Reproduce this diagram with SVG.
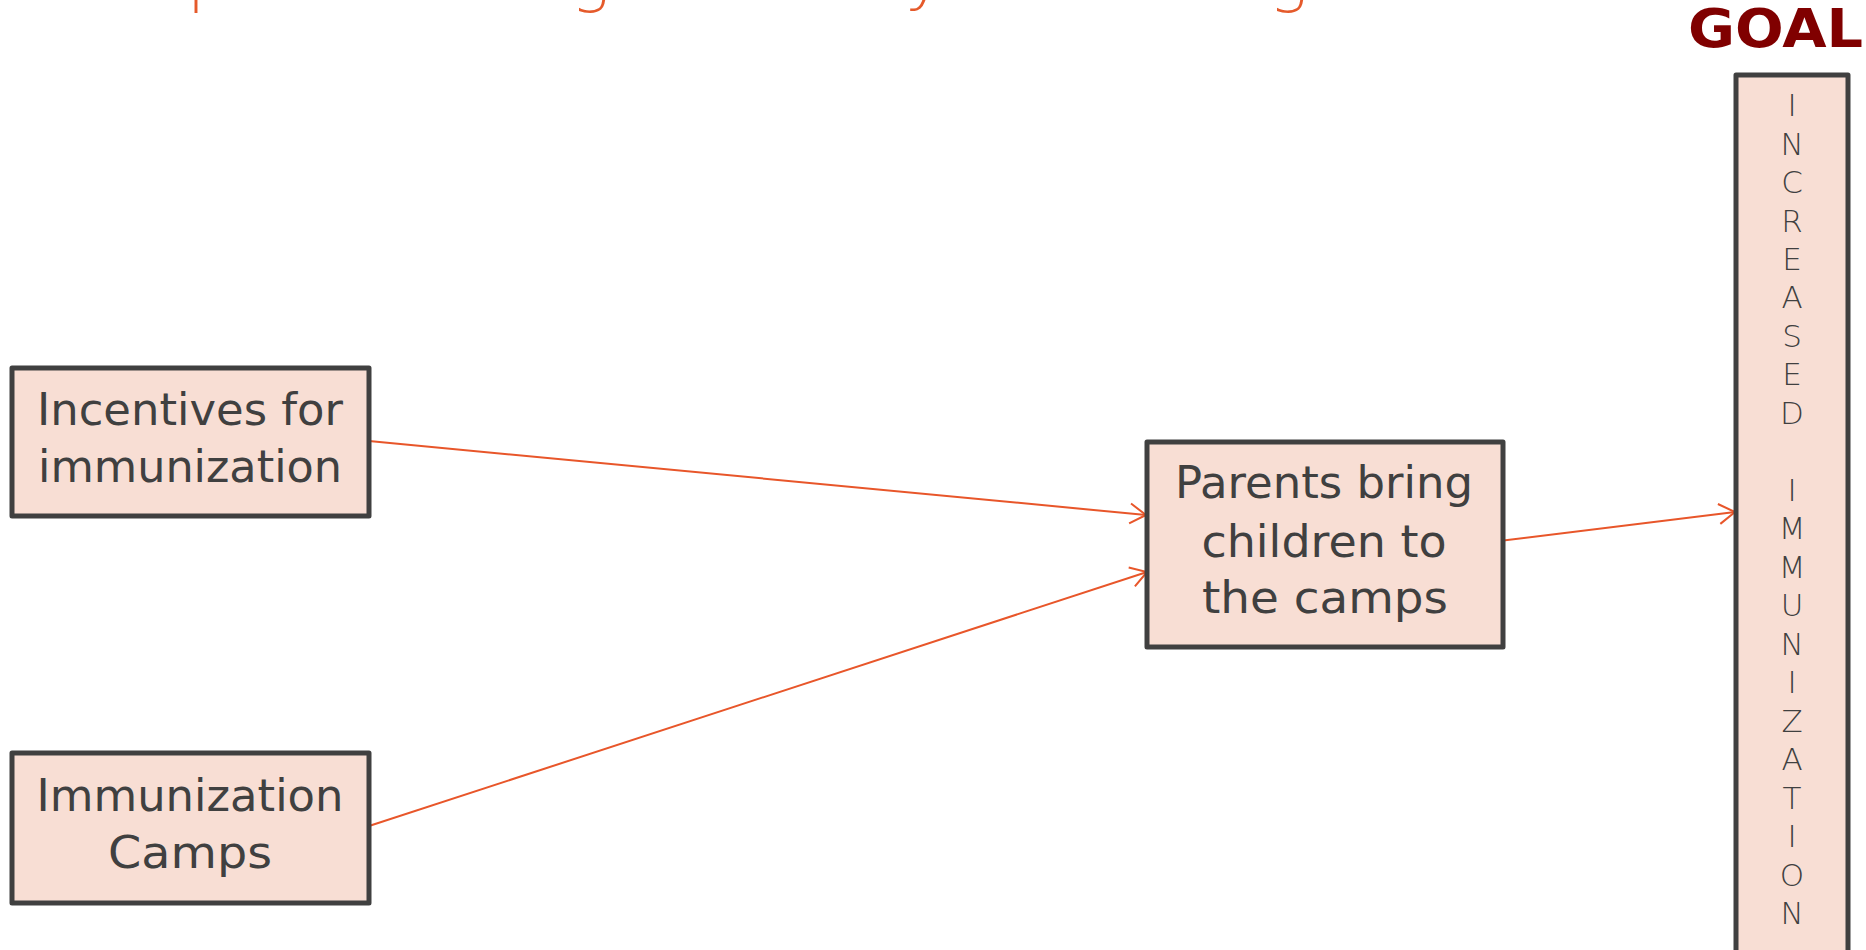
<svg xmlns="http://www.w3.org/2000/svg" width="1866" height="950" viewBox="0 0 1866 950">
<defs>
<style>
.box{fill:#F8DED4;stroke:#404040;stroke-width:5;stroke-linejoin:round}
.lbl{font-family:"DejaVu Sans","Liberation Sans",sans-serif;font-size:44px;fill:#404040;text-anchor:middle}
.vert{font-family:"DejaVu Sans","Liberation Sans",sans-serif;font-size:31px;fill:#404040;text-anchor:middle;font-weight:300}
.conn{stroke:#E8562A;stroke-width:2;fill:none}
.title{font-family:"DejaVu Sans","Liberation Sans",sans-serif;font-size:66px;fill:#E55A2B;font-weight:200}
.goal{font-family:"DejaVu Sans","Liberation Sans",sans-serif;font-size:53px;font-weight:bold;fill:#800000}
</style>
<marker id="arr" markerUnits="userSpaceOnUse" markerWidth="24" markerHeight="24" refX="20" refY="12" orient="auto" viewBox="0 0 24 24">
<path d="M4,2 L20,12 L4,22" fill="none" stroke="#E8562A" stroke-width="2"/>
</marker>
</defs>
<rect width="1866" height="950" fill="#ffffff"/>
<text class="title" y="-1"><tspan x="187">p</tspan><tspan x="571">g</tspan><tspan x="905">y</tspan><tspan x="1269">g</tspan></text>
<text class="goal" x="1688" y="47" textLength="175" lengthAdjust="spacingAndGlyphs">GOAL</text>
<g id="connectors">
<line class="conn" x1="369" y1="441" x2="1146" y2="515" marker-end="url(#arr)"/>
<line class="conn" x1="369" y1="826" x2="1147" y2="572" marker-end="url(#arr)"/>
<line class="conn" x1="1491" y1="542" x2="1735" y2="512" marker-end="url(#arr)"/>
</g>
<g id="node-incentives">
<rect class="box" x="12" y="368" width="357" height="148"/>
<text class="lbl" x="190" y="425" textLength="306" lengthAdjust="spacingAndGlyphs">Incentives for</text>
<text class="lbl" x="190" y="482" textLength="304" lengthAdjust="spacingAndGlyphs">immunization</text>
</g>
<g id="node-camps">
<rect class="box" x="12" y="753" width="357" height="150"/>
<text class="lbl" x="190" y="811" textLength="307" lengthAdjust="spacingAndGlyphs">Immunization</text>
<text class="lbl" x="190" y="868" textLength="164" lengthAdjust="spacingAndGlyphs">Camps</text>
</g>
<g id="node-parents">
<rect class="box" x="1147" y="442" width="356" height="205"/>
<text class="lbl" x="1324" y="498" textLength="298" lengthAdjust="spacingAndGlyphs">Parents bring</text>
<text class="lbl" x="1324" y="557" textLength="245" lengthAdjust="spacingAndGlyphs">children to</text>
<text class="lbl" x="1325" y="613" textLength="246" lengthAdjust="spacingAndGlyphs">the camps</text>
</g>
<g id="node-goal">
<rect class="box" x="1736" y="75" width="112" height="880"/>
<text class="vert" x="1792"><tspan x="1792" y="116">I</tspan><tspan x="1792" y="154.5">N</tspan><tspan x="1792" y="193">C</tspan><tspan x="1792" y="231.5">R</tspan><tspan x="1792" y="270">E</tspan><tspan x="1792" y="308">A</tspan><tspan x="1792" y="347">S</tspan><tspan x="1792" y="385">E</tspan><tspan x="1792" y="424">D</tspan><tspan x="1792" y="501">I</tspan><tspan x="1792" y="539">M</tspan><tspan x="1792" y="578">M</tspan><tspan x="1792" y="616">U</tspan><tspan x="1792" y="655">N</tspan><tspan x="1792" y="693">I</tspan><tspan x="1792" y="732">Z</tspan><tspan x="1792" y="770">A</tspan><tspan x="1792" y="809">T</tspan><tspan x="1792" y="847">I</tspan><tspan x="1792" y="886">O</tspan><tspan x="1792" y="924">N</tspan></text>
</g>
</svg>
